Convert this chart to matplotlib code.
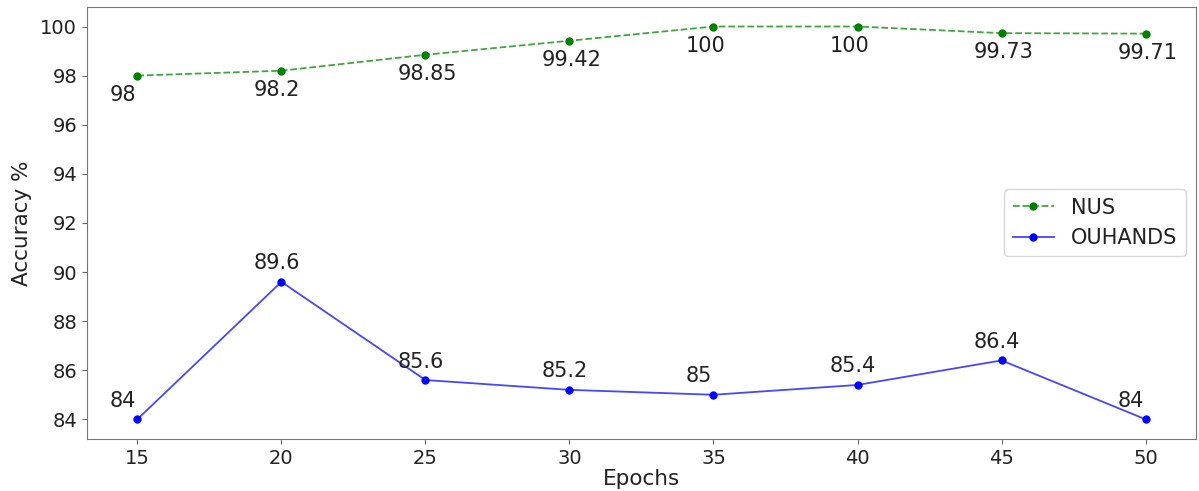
import matplotlib
matplotlib.use("Agg")
import matplotlib.pyplot as plt

epochs = [15, 20, 25, 30, 35, 40, 45, 50]
nus = [98, 98.2, 98.85, 99.42, 100, 100, 99.73, 99.71]
ouhands = [84, 89.6, 85.6, 85.2, 85, 85.4, 86.4, 84]
nus_labels = ["98", "98.2", "98.85", "99.42", "100", "100", "99.73", "99.71"]
ouhands_labels = ["84", "89.6", "85.6", "85.2", "85", "85.4", "86.4", "84"]

FS_TICK = 14
FS_ANN = 15
FS_LAB = 15.5
FS_LEG = 15
TXT = "#222222"

fig = plt.figure(figsize=(11.99, 4.91), dpi=100)
ax = fig.add_axes([0.0725, 0.106, 0.925, 0.88])

ax.plot(epochs, nus, color=(0.1, 0.6, 0.1, 0.85), linestyle="--", marker="o",
        markersize=5, markerfacecolor="green", markeredgecolor="green",
        linewidth=1.3, label="NUS")
ax.plot(epochs, ouhands, color=(0.15, 0.15, 1.0, 0.85), linestyle="-", marker="o",
        markersize=5, markerfacecolor="blue", markeredgecolor="blue",
        linewidth=1.3, label="OUHANDS")

for x, y, t in zip(epochs, nus, nus_labels):
    ax.annotate(t, (x, y), xytext=(-28, -25), textcoords="offset pixels",
                ha="left", va="baseline", fontsize=FS_ANN, color=TXT)
for x, y, t in zip(epochs, ouhands, ouhands_labels):
    ax.annotate(t, (x, y), xytext=(-28, 12.5), textcoords="offset pixels",
                ha="left", va="baseline", fontsize=FS_ANN, color=TXT)

ax.set_xticks(epochs)
ax.set_yticks([84, 86, 88, 90, 92, 94, 96, 98, 100])
ax.tick_params(labelsize=FS_TICK, colors=TXT)
ax.tick_params(color="#666666")
for s in ax.spines.values():
    s.set_color("#777777")
ax.set_xlabel("Epochs", fontsize=FS_LAB, color=TXT, labelpad=1)
ax.set_ylabel("Accuracy %", fontsize=FS_LAB, color=TXT, labelpad=6)
leg = ax.legend(loc="center right", fontsize=FS_LEG)
for t in leg.get_texts():
    t.set_color(TXT)

fig.savefig("out.png", dpi=100)
